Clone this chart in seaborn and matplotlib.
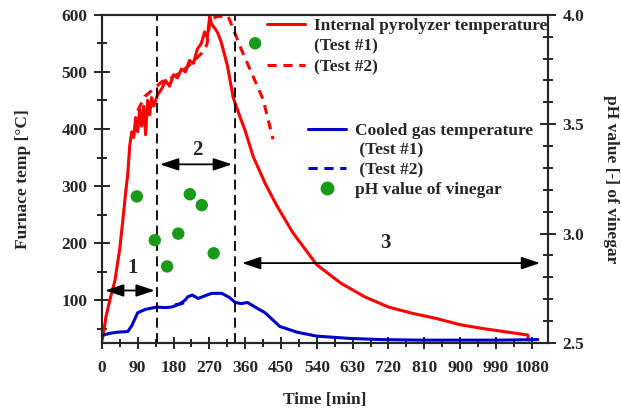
import numpy as np
import pandas as pd
import seaborn as sns
import matplotlib.pyplot as plt
from matplotlib.lines import Line2D
from matplotlib.ticker import MultipleLocator, FormatStrFormatter

# internal pyrolyzer temperature, test 1 (time [min], temp [C])
red1_t = [0, 5, 10, 20, 33, 45, 53, 60, 65, 70, 75, 80, 85, 90, 95, 100, 105, 110,
          115, 120, 125, 130, 140, 150, 160, 170, 180, 190, 200, 210, 220, 230, 240,
          250, 258, 265, 271, 275, 280, 290, 300, 315, 330, 345, 360, 380, 410,
          440, 480, 540, 600, 660, 720, 780, 840, 900, 960, 1020, 1070, 1072]
red1_T = [28, 45, 70, 100, 135, 190, 242, 290, 320, 370, 395, 385, 420, 395, 434, 405,
          440, 390, 450, 425, 455, 440, 460, 470, 485, 475, 495, 490, 505, 500, 520, 515,
          540, 550, 570, 560, 598, 585, 580, 570, 552, 512, 455, 425, 397, 352, 305,
          265, 218, 162, 130, 106, 88, 77, 68, 57, 50, 44, 39, 30]

# internal pyrolyzer temperature, test 2
red2_t = [90, 108, 130, 151, 175, 200, 225, 251, 264, 272, 290, 317, 329, 350, 380, 405, 430]
red2_T = [432, 457, 470, 483, 490, 500, 515, 533, 548, 592, 597, 598, 577, 540, 492, 452, 382]

# cooled gas temperature, test 1
blue1_t = [0, 20, 40, 65, 75, 90, 110, 138, 160, 175, 195, 209, 216, 227, 242, 260, 276,
           290, 301, 320, 335, 350, 366, 380, 410, 447, 490, 540, 623, 700, 800, 900,
           1000, 1095]
blue1_T = [38, 42, 44, 45, 55, 78, 84, 88, 87, 88, 93, 100, 106, 109, 103, 108, 112,
           112, 112, 105, 96, 94, 96, 90, 78, 54, 44, 37, 33, 31, 30, 30, 30, 31]

# cooled gas temperature, test 2 (only a short piece is visible)
blue2_t = [184, 200, 212, 222]
blue2_T = [92, 94, 97, 98]

# pH of vinegar
ph_t = [88, 133, 164, 192, 221, 251, 281, 385]
ph_v = [3.17, 2.97, 2.85, 3.00, 3.18, 3.13, 2.91, 3.87]

# phase boundaries [min] and labels
phase_x = [138, 334]
phase_lab = ["1", "2", "3"]

sns.set_style("ticks")
plt.rcParams['font.family'] = ['Liberation Serif', 'DejaVu Serif']
plt.rcParams['font.weight'] = 'bold'
plt.rcParams['axes.labelweight'] = 'bold'
plt.rcParams['font.size'] = 12.5

fig = plt.figure(figsize=(6.21, 4.12), dpi=100)
ax = fig.add_axes([0.164, 0.1675, 0.718, 0.7965])
ax2 = ax.twinx()

red = '#ff0000'
blue = '#0000c8'
green = '#1a9a1a'

sns.lineplot(x=red1_t, y=red1_T, ax=ax, color=red, lw=2.2, estimator=None, sort=False)
sns.lineplot(x=red2_t, y=red2_T, ax=ax, color=red, lw=2.2, estimator=None, sort=False,
             linestyle=(0, (3, 2.2)))
sns.lineplot(x=blue1_t, y=blue1_T, ax=ax, color=blue, lw=2.2, estimator=None, sort=False)
sns.lineplot(x=blue2_t, y=blue2_T, ax=ax, color=blue, lw=2.2, estimator=None, sort=False,
             linestyle=(0, (3, 2.2)))
sns.scatterplot(x=ph_t, y=ph_v, ax=ax2, color=green, s=80, edgecolor='none', zorder=5)

for xv in phase_x:
    ax.axvline(xv, color='k', lw=1.3, linestyle=(0, (5.5, 3)))

ax.set_xlim(0, 1120)
ax.set_ylim(25, 600)
ax2.set_ylim(2.5, 4.0)

ax.xaxis.set_major_locator(MultipleLocator(90))
ax.xaxis.set_minor_locator(MultipleLocator(45))
ax.yaxis.set_major_locator(MultipleLocator(100))
ax.yaxis.set_minor_locator(MultipleLocator(50))
ax2.yaxis.set_major_locator(MultipleLocator(0.5))
ax2.yaxis.set_minor_locator(MultipleLocator(0.1))
ax2.yaxis.set_major_formatter(FormatStrFormatter('%.1f'))
ax.set_xticks(np.arange(0, 1081, 90))

for a in (ax, ax2):
    a.tick_params(which='major', direction='inout', length=11, width=1.4, pad=5)
    a.tick_params(which='minor', direction='inout', length=7, width=1.4)
    for sp in a.spines.values():
        sp.set_linewidth(1.5)
        sp.set_visible(True)
ax.tick_params(axis='x', which='major', length=9, pad=8)
ax.tick_params(axis='x', which='minor', length=6)
ax2.tick_params(axis='y', which='both', right=True, left=False)

ax.set_xlabel("Time [min]", labelpad=11)
ax.set_ylabel("Furnace temp [°C]", labelpad=22)
ax2.set_ylabel("pH value [-] of vinegar", rotation=270, labelpad=25)

# phase arrows
arr = dict(arrowstyle='<|-|>,head_length=0.9,head_width=0.3', color='k', lw=1.3,
           shrinkA=0, shrinkB=0)
ax.annotate('', xy=(8, 117), xytext=(phase_x[0] - 5, 117), arrowprops=arr)
ax.annotate('', xy=(phase_x[0] + 8, 338), xytext=(phase_x[1] - 7, 338), arrowprops=arr)
ax.annotate('', xy=(phase_x[1] + 18, 165), xytext=(1101, 165), arrowprops=arr)
ax.text(78, 156, phase_lab[0], ha='center', va='center', fontsize=15)
ax.text(241, 364, phase_lab[1], ha='center', va='center', fontsize=15)
ax.text(711, 200, phase_lab[2], ha='center', va='center', fontsize=15)

blank = Line2D([], [], color='none')
h_red = [Line2D([], [], color=red, lw=2.2), blank,
         Line2D([], [], color=red, lw=2.2, linestyle=(0, (3, 2.2)))]
leg1 = ax2.legend(h_red, ["Internal pyrolyzer temperature", "(Test #1)", "(Test #2)"],
                  loc='upper left', bbox_to_anchor=(267 / 621, 1 - 18 / 412),
                  bbox_transform=fig.transFigure, frameon=False, borderpad=0,
                  borderaxespad=0, handlelength=2.2, handletextpad=0.5,
                  labelspacing=0.25, fontsize=12.5)
ax2.add_artist(leg1)
h_blue = [Line2D([], [], color=blue, lw=2.2), blank,
          Line2D([], [], color=blue, lw=2.2, linestyle=(0, (3, 2.2))),
          Line2D([], [], color=green, marker='o', markersize=9, linestyle='none')]
ax2.legend(h_blue, ["Cooled gas temperature", " (Test #1)", " (Test #2)",
                    "pH value of vinegar"],
           loc='upper left', bbox_to_anchor=(308 / 621, 1 - 123 / 412),
           bbox_transform=fig.transFigure, frameon=False, borderpad=0,
           borderaxespad=0, handlelength=2.2, handletextpad=0.5,
           labelspacing=0.2, fontsize=12.5)

fig.savefig("out.png", dpi=100)
